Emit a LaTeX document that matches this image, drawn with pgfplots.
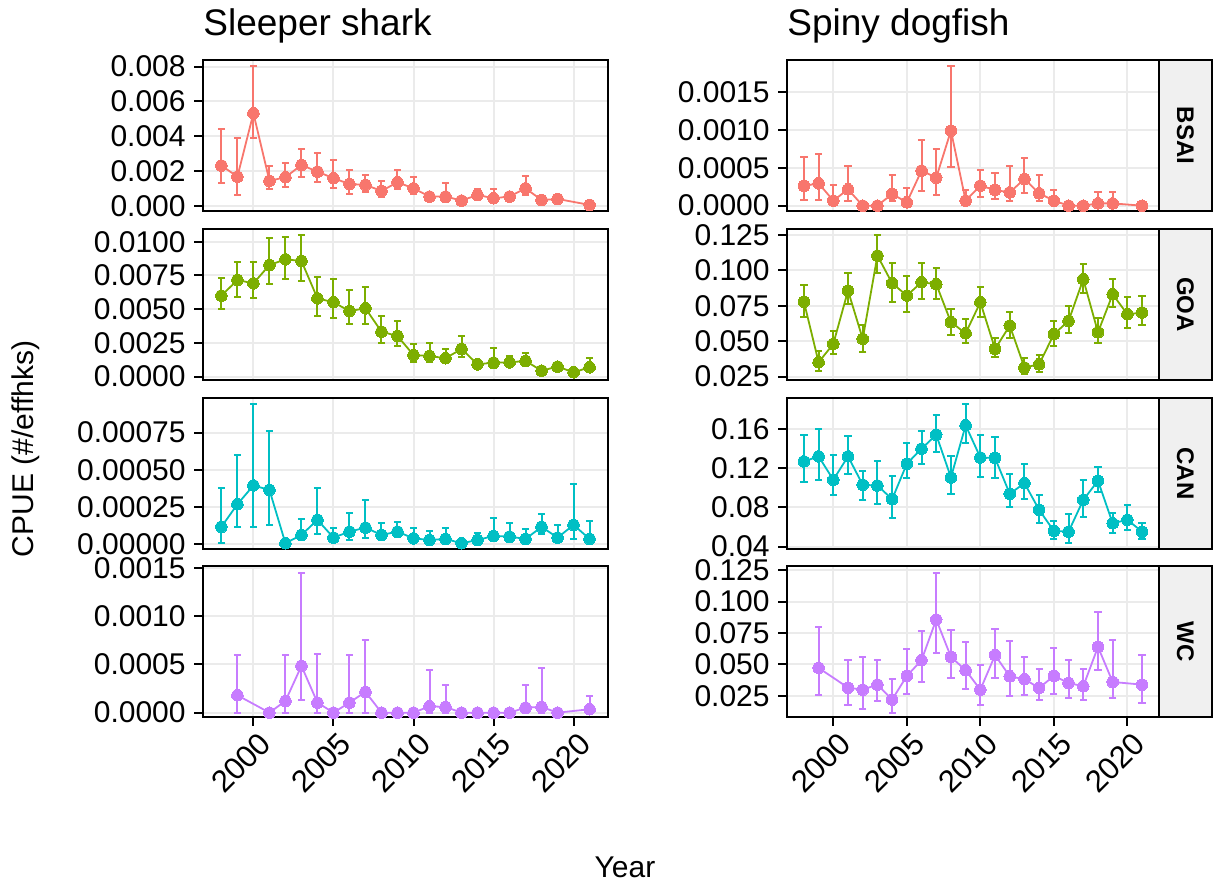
\documentclass[border=0pt]{standalone}
\usepackage{fontspec}
\setmainfont{Liberation Sans}
\usepackage{pgfplots}
\usepackage{pgfplotstable}
\pgfplotsset{compat=1.18}
\definecolor{cA}{HTML}{F8766D}
\definecolor{cB}{HTML}{7CAE00}
\definecolor{cC}{HTML}{00BFC4}
\definecolor{cD}{HTML}{C77CFF}
\definecolor{gridc}{HTML}{EBEBEB}
\definecolor{stripc}{HTML}{F0F0F0}

\pgfplotstableread{
yr v lo hi
1998 0.00232 0.00130 0.00442
1999 0.00168 0.00063 0.00389
2000 0.00532 0.00389 0.00804
2001 0.00144 0.00096 0.00230
2002 0.00165 0.00111 0.00245
2003 0.00235 0.00168 0.00325
2004 0.00197 0.00136 0.00302
2005 0.00159 0.00105 0.00264
2006 0.00126 0.00069 0.00207
2007 0.00121 0.00078 0.00178
2008 0.00086 0.00050 0.00144
2009 0.00136 0.00096 0.00207
2010 0.00101 0.00067 0.00167
2011 0.00054 0.00034 0.00073
2012 0.00054 0.00025 0.00134
2013 0.00031 0.00015 0.00044
2014 0.00063 0.00040 0.00100
2015 0.00044 0.00029 0.00096
2016 0.00054 0.00038 0.00067
2017 0.00101 0.00063 0.00172
2018 0.00034 0.00025 0.00044
2019 0.00040 0.00030 0.00050
2021 0.00006 0.00000 0.00012
}\SB
\pgfplotstableread{
yr v lo hi
1998 0.00600 0.00499 0.00733
1999 0.00716 0.00593 0.00852
2000 0.00691 0.00580 0.00847
2001 0.00827 0.00686 0.01025
2002 0.00869 0.00723 0.01037
2003 0.00857 0.00709 0.01049
2004 0.00580 0.00452 0.00736
2005 0.00551 0.00432 0.00721
2006 0.00486 0.00390 0.00642
2007 0.00506 0.00388 0.00667
2008 0.00333 0.00247 0.00452
2009 0.00301 0.00230 0.00412
2010 0.00160 0.00106 0.00240
2011 0.00153 0.00106 0.00247
2012 0.00136 0.00106 0.00202
2013 0.00205 0.00148 0.00304
2014 0.00091 0.00067 0.00123
2015 0.00104 0.00067 0.00215
2016 0.00106 0.00074 0.00153
2017 0.00116 0.00086 0.00173
2018 0.00044 0.00030 0.00060
2019 0.00074 0.00050 0.00100
2020 0.00032 0.00020 0.00045
2021 0.00069 0.00037 0.00136
}\SG
\pgfplotstableread{
yr v lo hi
1998 0.000117 0.000007 0.000377
1999 0.000269 0.000119 0.000601
2000 0.000395 0.000119 0.000944
2001 0.000365 0.000130 0.000758
2002 0.000007 0.000000 0.000010
2003 0.000063 0.000030 0.000170
2004 0.000164 0.000067 0.000381
2005 0.000045 0.000022 0.000108
2006 0.000085 0.000029 0.000209
2007 0.000112 0.000045 0.000298
2008 0.000063 0.000029 0.000141
2009 0.000085 0.000052 0.000152
2010 0.000040 0.000018 0.000112
2011 0.000029 0.000013 0.000090
2012 0.000036 0.000013 0.000112
2013 0.000007 0.000000 0.000010
2014 0.000029 0.000013 0.000079
2015 0.000056 0.000022 0.000175
2016 0.000052 0.000018 0.000146
2017 0.000036 0.000013 0.000103
2018 0.000117 0.000067 0.000204
2019 0.000045 0.000018 0.000130
2020 0.000130 0.000036 0.000404
2021 0.000036 0.000013 0.000157
}\SC
\pgfplotstableread{
yr v lo hi
1999 0.000180 0.000000 0.000602
2001 0.000000 0.000000 0.000000
2002 0.000121 0.000000 0.000602
2003 0.000484 0.000128 0.001450
2004 0.000104 0.000000 0.000612
2005 0.000000 0.000000 0.000000
2006 0.000104 0.000000 0.000595
2007 0.000215 0.000000 0.000751
2008 0.000000 0.000000 0.000000
2009 0.000000 0.000000 0.000000
2010 0.000000 0.000000 0.000000
2011 0.000066 0.000000 0.000446
2012 0.000059 0.000000 0.000284
2013 0.000000 0.000000 0.000000
2014 0.000000 0.000000 0.000000
2015 0.000000 0.000000 0.000000
2016 0.000000 0.000000 0.000000
2017 0.000052 0.000000 0.000284
2018 0.000059 0.000000 0.000467
2019 0.000000 0.000000 0.000000
2021 0.000035 0.000000 0.000173
}\SW
\pgfplotstableread{
yr v lo hi
1998 0.000259 0.000075 0.000645
1999 0.000294 0.000075 0.000675
2000 0.000066 0.000009 0.000272
2001 0.000215 0.000061 0.000522
2002 0.000000 0.000000 0.000000
2003 0.000000 0.000000 0.000000
2004 0.000154 0.000061 0.000404
2005 0.000044 0.000000 0.000237
2006 0.000461 0.000193 0.000864
2007 0.000368 0.000140 0.000741
2008 0.000987 0.000513 0.001838
2009 0.000066 0.000018 0.000206
2010 0.000263 0.000118 0.000469
2011 0.000206 0.000088 0.000425
2012 0.000175 0.000061 0.000522
2013 0.000351 0.000162 0.000632
2014 0.000162 0.000061 0.000404
2015 0.000066 0.000009 0.000206
2016 0.000000 0.000000 0.000000
2017 0.000000 0.000000 0.000000
2018 0.000030 0.000000 0.000184
2019 0.000030 0.000000 0.000184
2021 0.000000 0.000000 0.000000
}\DB
\pgfplotstableread{
yr v lo hi
1998 0.0779 0.0674 0.0897
1999 0.0351 0.0290 0.0431
2000 0.0481 0.0408 0.0572
2001 0.0857 0.0761 0.0984
2002 0.0516 0.0426 0.0615
2003 0.1104 0.0984 0.1250
2004 0.0909 0.0775 0.1050
2005 0.0822 0.0704 0.0961
2006 0.0916 0.0798 0.1050
2007 0.0902 0.0798 0.1019
2008 0.0634 0.0544 0.0728
2009 0.0556 0.0485 0.0657
2010 0.0775 0.0674 0.0885
2011 0.0445 0.0391 0.0521
2012 0.0610 0.0521 0.0704
2013 0.0314 0.0266 0.0384
2014 0.0337 0.0285 0.0403
2015 0.0549 0.0469 0.0645
2016 0.0643 0.0556 0.0749
2017 0.0937 0.0838 0.1043
2018 0.0563 0.0485 0.0662
2019 0.0831 0.0744 0.0939
2020 0.0690 0.0591 0.0815
2021 0.0702 0.0615 0.0822
}\DG
\pgfplotstableread{
yr v lo hi
1998 0.1270 0.1055 0.1536
1999 0.1321 0.1082 0.1600
2000 0.1082 0.0922 0.1338
2001 0.1321 0.1140 0.1525
2002 0.1031 0.0877 0.1174
2003 0.1024 0.0833 0.1276
2004 0.0884 0.0697 0.1126
2005 0.1246 0.1099 0.1457
2006 0.1399 0.1242 0.1576
2007 0.1542 0.1365 0.1747
2008 0.1106 0.0939 0.1321
2009 0.1638 0.1457 0.1860
2010 0.1310 0.1106 0.1542
2011 0.1304 0.1099 0.1515
2012 0.0939 0.0800 0.1143
2013 0.1048 0.0888 0.1242
2014 0.0775 0.0646 0.0929
2015 0.0560 0.0475 0.0663
2016 0.0553 0.0441 0.0731
2017 0.0877 0.0707 0.1082
2018 0.1072 0.0956 0.1212
2019 0.0639 0.0543 0.0741
2020 0.0673 0.0571 0.0820
2021 0.0553 0.0478 0.0646
}\DC
\pgfplotstableread{
yr v lo hi
1999 0.0473 0.0261 0.0799
2001 0.0316 0.0181 0.0534
2002 0.0300 0.0144 0.0560
2003 0.0340 0.0208 0.0534
2004 0.0221 0.0117 0.0383
2005 0.0409 0.0269 0.0619
2006 0.0534 0.0361 0.0765
2007 0.0857 0.0592 0.1229
2008 0.0560 0.0396 0.0772
2009 0.0454 0.0308 0.0680
2010 0.0300 0.0176 0.0494
2011 0.0574 0.0396 0.0780
2012 0.0406 0.0247 0.0685
2013 0.0383 0.0255 0.0560
2014 0.0314 0.0221 0.0462
2015 0.0409 0.0269 0.0632
2016 0.0353 0.0234 0.0539
2017 0.0327 0.0221 0.0462
2018 0.0640 0.0454 0.0913
2019 0.0361 0.0234 0.0693
2021 0.0340 0.0197 0.0574
}\DW

\pgfplotsset{
  every error bar/.append style={line width=1pt},
  base/.style={scale only axis, height=75.5pt, xmin=1996.85, xmax=2022.15,
    xtick={2000,2005,2010,2015,2020}, xticklabels={},
    grid=major, major grid style={draw=gridc, line width=1pt},
    axis line style={line width=1pt, black},
    tick align=outside, major tick length=4.5pt,
    tick style={line width=1pt, black},
    xtick pos=bottom, ytick pos=left,
    scaled y ticks=false, scaled x ticks=false,
    yticklabel style={font=\fontsize{15}{15}\selectfont, inner sep=0pt, xshift=-4pt},
    xticklabel style={font=\fontsize{15.5}{15.5}\selectfont, inner sep=0pt, rotate=45, anchor=north east, yshift=-3pt},
  },
  toprow/.style={xtick style={draw=none}},
  L/.style={base, width=202.5pt},
  R/.style={base, width=186pt},
  bottomrow/.style={xticklabels={2000,2005,2010,2015,2020}},
}
\newcommand\series[2]{\addplot[color=#1, line width=0.9pt, mark=*, mark size=2.9pt,
  mark options={fill=#1, draw=#1, line width=0pt},
  error bars/.cd, y dir=both, y explicit,
  error bar style={line width=1pt, color=#1, solid},
  error mark options={line width=1pt, mark size=1.8pt, rotate=90, color=#1}]
  table[x=yr, y=v, y error plus expr=\thisrow{hi}-\thisrow{v}, y error minus expr=\thisrow{v}-\thisrow{lo}] {#2};}

\begin{document}
\begin{tikzpicture}
\useasboundingbox (0,0) rectangle (608.5pt,442pt);
% Left column: Sleeper shark
\begin{axis}[L, toprow, at={(101.5pt,336.5pt)}, anchor=south west,
  ymin=-0.00029, ymax=0.00838, ytick={0,0.002,0.004,0.006,0.008},
  yticklabels={0.000,0.002,0.004,0.006,0.008}]
\series{cA}{\SB}
\end{axis}
\begin{axis}[L, toprow, at={(101.5pt,252pt)}, anchor=south west,
  ymin=-0.00025, ymax=0.01094, ytick={0,0.0025,0.005,0.0075,0.01},
  yticklabels={0.0000,0.0025,0.0050,0.0075,0.0100}]
\series{cB}{\SG}
\end{axis}
\begin{axis}[L, toprow, at={(101.5pt,167.5pt)}, anchor=south west,
  ymin=-0.0000314, ymax=0.000982, ytick={0,0.00025,0.0005,0.00075},
  yticklabels={0.00000,0.00025,0.00050,0.00075}]
\series{cC}{\SC}
\end{axis}
\begin{axis}[L, bottomrow, at={(101.5pt,83.5pt)}, anchor=south west,
  ymin=-0.000045, ymax=0.001519, ytick={0,0.0005,0.001,0.0015},
  yticklabels={0.0000,0.0005,0.0010,0.0015}]
\series{cD}{\SW}
\end{axis}
% Right column: Spiny dogfish
\begin{axis}[R, toprow, at={(393.5pt,336.5pt)}, anchor=south west,
  ymin=-0.00007, ymax=0.001917, ytick={0,0.0005,0.001,0.0015},
  yticklabels={0.0000,0.0005,0.0010,0.0015}]
\series{cA}{\DB}
\end{axis}
\begin{axis}[R, toprow, at={(393.5pt,252pt)}, anchor=south west,
  ymin=0.0226, ymax=0.1292, ytick={0.025,0.05,0.075,0.1,0.125},
  yticklabels={0.025,0.050,0.075,0.100,0.125}]
\series{cB}{\DG}
\end{axis}
\begin{axis}[R, toprow, at={(393.5pt,167.5pt)}, anchor=south west,
  ymin=0.0376, ymax=0.1917, ytick={0.04,0.08,0.12,0.16},
  yticklabels={0.04,0.08,0.12,0.16}]
\series{cC}{\DC}
\end{axis}
\begin{axis}[R, bottomrow, at={(393.5pt,83.5pt)}, anchor=south west,
  ymin=0.0083, ymax=0.1282, ytick={0.025,0.05,0.075,0.1,0.125},
  yticklabels={0.025,0.050,0.075,0.100,0.125}]
\series{cD}{\DW}
\end{axis}
% strips
\foreach \yb/\lab in {336.5/BSAI, 252/GOA, 167.5/CAN, 83.5/WC}{
  \draw[fill=stripc, draw=black, line width=1pt] (579.5pt,\yb pt) rectangle (606pt,\yb pt+75.5pt);
  \node[rotate=-90, font=\fontsize{12}{12}\selectfont\bfseries, inner sep=0pt] at (592.75pt,\yb pt+37.75pt) {\lab};
}
% titles
\node[anchor=base west, inner sep=0pt, font=\fontsize{18.5}{18.5}\selectfont] at (101.5pt,424pt) {Sleeper shark};
\node[anchor=base west, inner sep=0pt, font=\fontsize{18.5}{18.5}\selectfont] at (393.5pt,424pt) {Spiny dogfish};
\node[anchor=base, rotate=90, inner sep=0pt, font=\fontsize{15}{15}\selectfont] at (16.65pt,217.5pt) {CPUE (\#/effhks)};
\node[anchor=base, inner sep=0pt, font=\fontsize{15}{15}\selectfont] at (312.5pt,3pt) {Year};
\end{tikzpicture}
\end{document}
